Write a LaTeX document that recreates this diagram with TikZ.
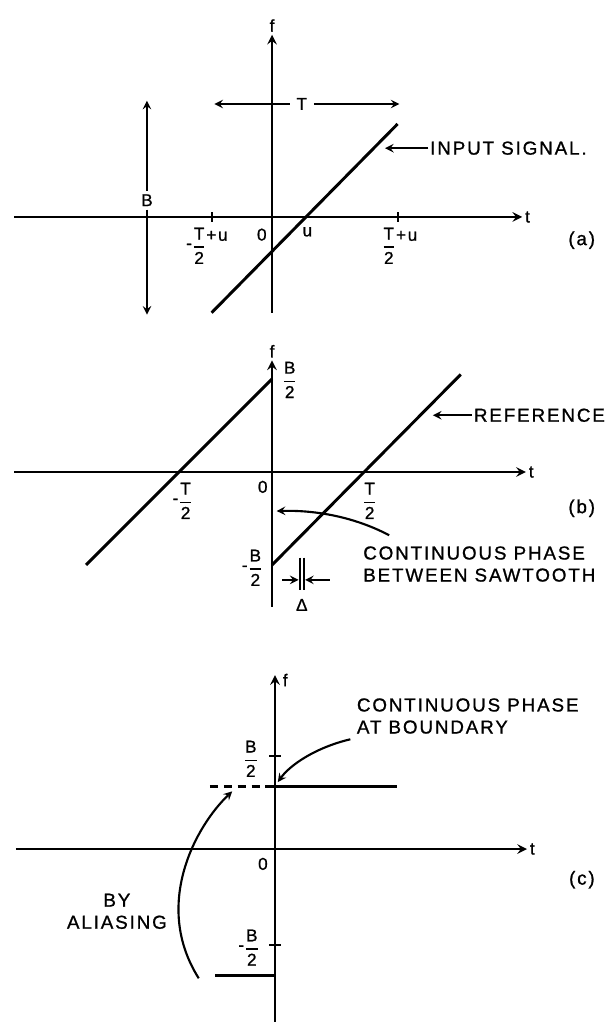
\documentclass[tikz,border=0pt]{standalone}
\usepackage{amsmath}
\usepackage{fontspec}
\setmainfont{Liberation Sans}[LetterSpace=10, FakeBold=1]
\newcommand{\fr}[2]{$\genfrac{}{}{0.8pt}{0}{\text{#1}}{\text{#2}}$}
\newcommand{\mn}{\raisebox{0.3ex}{-}}

\begin{document}
\begin{tikzpicture}[x=2cm, y=2cm, >=stealth,
  axis/.style={->, line width=1.6pt},
  sig/.style={line width=1.8pt},
  ptr/.style={->, line width=1.3pt},
  tick/.style={line width=1.2pt},
  lbl/.style={font=\fontsize{10.5}{11}\selectfont, inner sep=1pt},
  note/.style={font=\fontsize{11.5}{13.5}\selectfont, align=left, inner sep=1pt}]
\useasboundingbox (-2.925,-8.656) rectangle (3.645,2.333);

% (a) input signal
\coordinate (aL) at (-2.77,0);
\coordinate (aR) at (2.69,0);
\coordinate (aD) at (0,-1.03);
\coordinate (aU) at (0,1.96);
\draw[axis] (aL) -- (aR) node[right, lbl] (ta) {t};
\draw[axis] (aD) -- (aU) node[above, lbl] (fa) {f};
\draw[tick] (-0.65,-0.05) -- (-0.65,0.05);
\draw[tick] (1.35,-0.05) -- (1.35,0.05);
\coordinate (inA) at (-0.65,-1.03);
\coordinate (inB) at (1.35,1.0);
\draw[sig] (inA) -- (inB);
\node[lbl, inner sep=4pt] (Ta) at (0.32,1.215) {T};
\draw[ptr] (Ta.west) -- (-0.62,1.215);
\draw[ptr] (Ta.east) -- (1.37,1.215);
\node[lbl, inner sep=2pt] (Ba) at (-1.345,0.18) {B};
\draw[ptr] (Ba.north) -- (-1.345,1.25);
\draw[ptr] (Ba.south) -- (-1.345,-1.05);
\node[lbl] (za) at (-0.11,-0.19) {0};
\node[lbl] (ua) at (0.38,-0.16) {u};
\node[lbl] (lma) at (-0.70,-0.31) {\mn\fr{T}{2}\raisebox{1.2ex}{+u}};
\node[lbl] (lpa) at (1.37,-0.31) {\fr{T}{2}\raisebox{1.2ex}{+u}};
\node[note, anchor=west] (insig) at (1.68,0.74) {INPUT SIGNAL.};
\draw[ptr] (insig.west) -- (1.215,0.74);
\node[note] (pa) at (3.33,-0.25) {(a)};

% (b) reference sawtooth
\begin{scope}[shift={(0,-2.742)}]
\coordinate (bL) at (-2.77,0);
\coordinate (bR) at (2.73,0);
\coordinate (bD) at (0,-1.45);
\coordinate (bU) at (0,1.20);
\draw[axis] (bL) -- (bR) node[right, lbl] (tb) {t};
\draw[axis] (bD) -- (bU) node[above, lbl] (fb) {f};
\draw[sig] (-2,-1) -- (0,1);
\draw[sig] (0,-1) -- (2.03,1.05);
\node[lbl] (bhi) at (0.19,0.99) {\fr{B}{2}};
\node[lbl] (blo) at (-0.21,-1.03) {\mn\fr{B}{2}};
\node[lbl] (tlo) at (-0.96,-0.31) {\mn\fr{T}{2}};
\node[lbl] (thi) at (1.05,-0.31) {\fr{T}{2}};
\node[lbl] (zb) at (-0.10,-0.16) {0};
\node[note, anchor=west] (ref) at (2.15,0.61) {REFERENCE};
\draw[ptr] (ref.west) -- (1.73,0.61);
\node[note, anchor=west] (cph) at (0.96,-0.99) {CONTINUOUS PHASE\\BETWEEN SAWTOOTH};
\coordinate (cphs) at (1.26,-0.68);
\coordinate (cphe) at (0.05,-0.42);
\draw[ptr] (cphs) .. controls (0.84,-0.46) and (0.41,-0.41) .. (cphe);
% gap between the teeth
\draw[tick] (0.30,-0.92) -- (0.30,-1.27);
\draw[tick] (0.34,-0.92) -- (0.34,-1.27);
\draw[ptr] (0.11,-1.16) -- (0.285,-1.16);
\draw[ptr] (0.62,-1.16) -- (0.355,-1.16);
\node[lbl] (dl) at (0.32,-1.43) {Δ};
\node[note] (pb) at (3.33,-0.39) {(b)};
\end{scope}

% (c) phase after aliasing
\begin{scope}[shift={(0.032,-6.796)}]
\coordinate (cL) at (-2.785,0);
\coordinate (cR) at (2.71,0);
\coordinate (cD) at (0,-1.87);
\coordinate (cU) at (0,1.87);
\draw[axis] (cL) -- (cR) node[right, lbl] (tc) {t};
\draw[axis] (cD) -- (cU) node[right, lbl, xshift=3pt, yshift=-3pt] (fc) {f};
\draw[tick] (-0.06,1) -- (0.06,1);
\draw[tick] (-0.06,-1.03) -- (0.06,-1.03);
\node[lbl] (chi) at (-0.26,0.97) {\fr{B}{2}};
\node[lbl] (clo) at (-0.28,-1.06) {\mn\fr{B}{2}};
\node[lbl] (zc) at (-0.13,-0.16) {0};
\draw[sig] (0,0.67) -- (1.31,0.67);
\draw[sig, dash pattern=on 5pt off 3.5pt] (-0.70,0.67) -- (0,0.67);
\draw[sig] (-0.645,-1.36) -- (0,-1.36);
\node[note, anchor=west] (cpb) at (0.86,1.43) {CONTINUOUS PHASE\\AT BOUNDARY};
\coordinate (cpbs) at (0.81,1.18);
\coordinate (cpbe) at (0.03,0.72);
\draw[ptr] (cpbs) .. controls (0.43,1.09) and (0.16,0.90) .. (cpbe);
\node[note, align=center] (alias) at (-1.70,-0.67) {BY\\ALIASING};
\coordinate (als) at (-0.82,-1.39);
\coordinate (ale) at (-0.46,0.62);
\draw[ptr] (als) .. controls (-1.32,-0.6) and (-0.85,0.25) .. (ale);
\node[note] (pc) at (3.30,-0.33) {(c)};
\end{scope}
\end{tikzpicture}
\end{document}
